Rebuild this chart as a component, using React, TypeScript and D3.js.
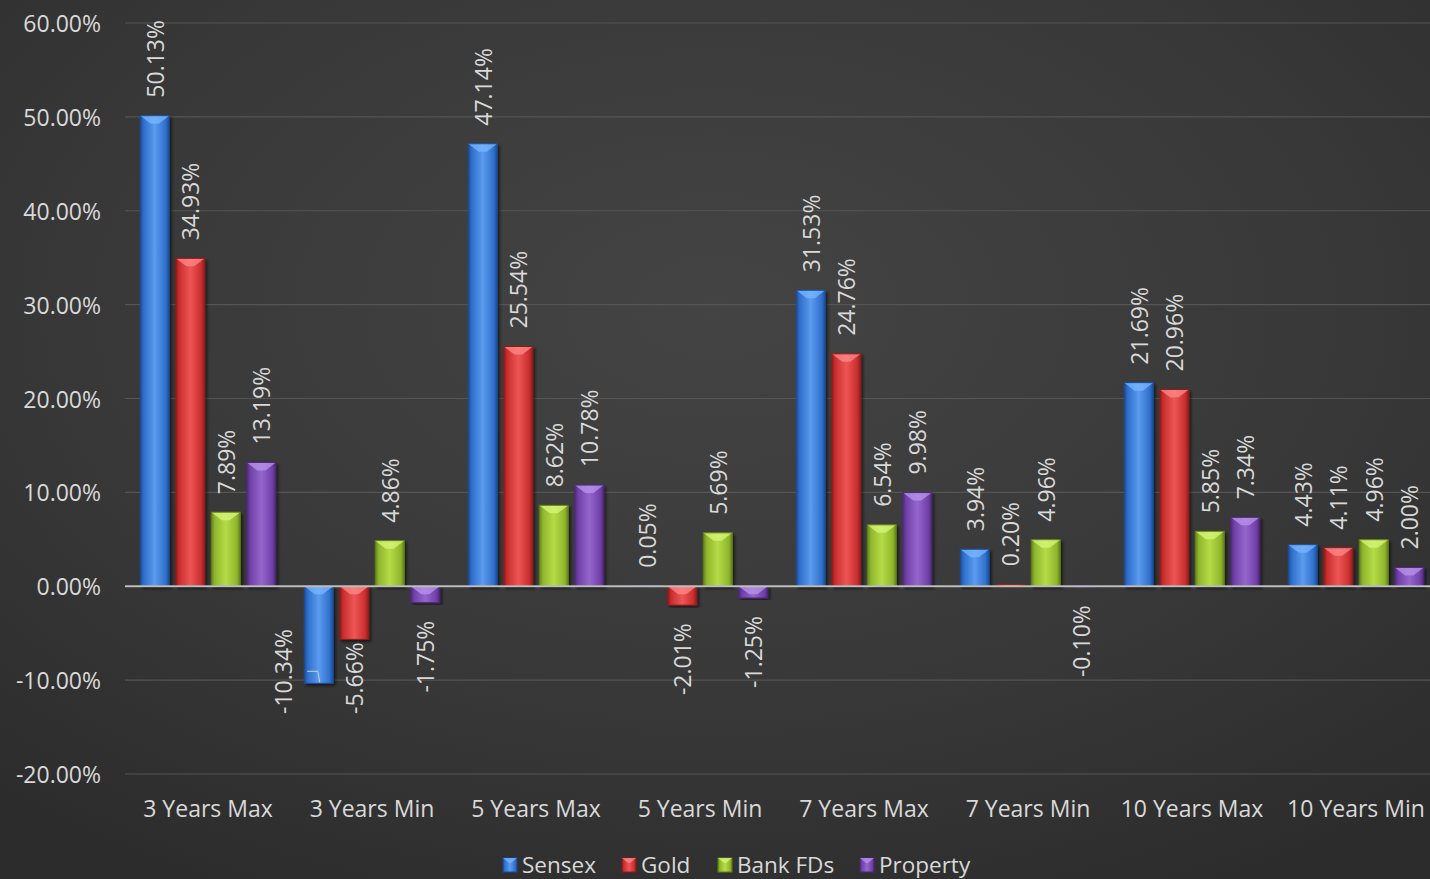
import React from "react";
import * as d3 from "d3";

const categories = ["3 Years Max", "3 Years Min", "5 Years Max", "5 Years Min", "7 Years Max", "7 Years Min", "10 Years Max", "10 Years Min"];
const seriesNames = ["Sensex", "Gold", "Bank FDs", "Property"];
const sensex = [50.13, -10.34, 47.14, 0.05, 31.53, 3.94, 21.69, 4.43];
const gold = [34.93, -5.66, 25.54, -2.01, 24.76, 0.2, 20.96, 4.11];
const bankFDs = [7.89, 4.86, 8.62, 5.69, 6.54, 4.96, 5.85, 4.96];
const property = [13.19, -1.75, 10.78, -1.25, 9.98, -0.1, 7.34, 2.0];
const yTicks = [-20, -10, 0, 10, 20, 30, 40, 50, 60];

const seriesValues = [sensex, gold, bankFDs, property];
const palette = [
  { base: "#2f6fcb", light: "#5b9bef", dark: "#1d4c92", top: "#7ab7ff" },
  { base: "#c92e2e", light: "#ee5656", dark: "#8e1b1b", top: "#ff8a8a" },
  { base: "#8fb62c", light: "#b6dc48", dark: "#62801a", top: "#d8f77a" },
  { base: "#7040a8", light: "#9566cc", dark: "#4c2a76", top: "#bb95ee" },
];

const W = 1430;
const H = 879;
const FONT = "'Open Sans', 'Noto Sans', sans-serif";
const TXT = "#d9d9d9";
const FS = 23;

function textLen(s: string): number {
  // approximate Open Sans advance widths (em)
  let w = 0;
  for (const ch of s) {
    if (ch === ".") w += 0.27;
    else if (ch === "%") w += 0.82;
    else if (ch === "-") w += 0.32;
    else w += 0.572;
  }
  return w * FS;
}

export default function App() {
  const x0 = d3.scaleBand<string>().domain(categories).range([126, 1438]).paddingInner(0).paddingOuter(0);
  const y = d3.scaleLinear().domain([-20, 60]).range([774, 23]);
  const pitch = 35.5;
  const bw = 29;
  const bevel = 8;
  const labelGap = 18;
  const labelBottomLimit = 714;

  const labelOverride: Record<string, { dx: number; leader: boolean }> = {
    "1-0": { dx: -36, leader: true },
  };

  const bars: React.ReactNode[] = [];
  const labels: React.ReactNode[] = [];
  categories.forEach((c, ci) => {
    const cx = (x0(c) as number) + x0.bandwidth() / 2;
    seriesValues.forEach((vals, si) => {
      const v = vals[ci];
      const bcx = cx + (si - 1.5) * pitch;
      const xl = bcx - bw / 2;
      const y0 = y(0);
      const yv = y(v);
      const top = Math.min(y0, yv);
      const h = Math.abs(yv - y0);
      const col = palette[si];
      if (h > 0.3) {
        const bv = Math.min(bevel, h);
        bars.push(
          <g key={`b-${ci}-${si}`} filter="url(#shadow)">
            <rect x={xl} y={top} width={bw} height={h} fill={`url(#grad${si})`} />
            <polygon
              points={`${xl},${top} ${xl + bw},${top} ${bcx + 4},${top + bv} ${bcx - 4},${top + bv}`}
              fill={col.top}
              opacity={0.75}
            />
            <rect x={xl} y={top} width={bw} height={h} fill="none" stroke={col.dark} strokeWidth={1} />
          </g>
        );
      }
      const label = `${v.toFixed(2)}%`;
      const ov = labelOverride[`${ci}-${si}`];
      if (v >= 0) {
        const ly = yv - labelGap;
        labels.push(
          <text key={`l-${ci}-${si}`} transform={`translate(${bcx},${ly}) rotate(-90)`} textAnchor="start" dominantBaseline="central" fill={TXT} fontSize={FS} fontFamily={FONT}>
            {label}
          </text>
        );
      } else {
        const dx = ov ? ov.dx : 0;
        const len = textLen(label);
        let ly = yv + labelGap;
        if (ly + len > labelBottomLimit) ly = labelBottomLimit - len;
        labels.push(
          <text key={`l-${ci}-${si}`} transform={`translate(${bcx + dx},${ly}) rotate(-90)`} textAnchor="end" dominantBaseline="central" fill={TXT} fontSize={FS} fontFamily={FONT}>
            {label}
          </text>
        );
        if (ov && ov.leader) {
          labels.push(
            <polyline key={`ld-${ci}-${si}`} points={`${xl + 3},${yv - 12} ${bcx - 1},${yv - 12} ${bcx + 1},${yv - 1}`} fill="none" stroke="#d0d0d0" strokeWidth={1} />
          );
        }
      }
    });
  });

  const legendItems = [
    { x: 503, tx: 522 },
    { x: 622, tx: 641 },
    { x: 718, tx: 737 },
    { x: 860, tx: 879 },
  ];

  return (
    <svg width={W} height={H} style={{ position: "absolute", left: 0, top: 0, display: "block" }}>
      <defs>
        <radialGradient id="bg" cx="0.5" cy="0.35" r="0.75">
          <stop offset="0" stopColor="#444444" />
          <stop offset="0.6" stopColor="#383838" />
          <stop offset="1" stopColor="#2c2c2c" />
        </radialGradient>
        {palette.map((p, i) => (
          <linearGradient key={i} id={`grad${i}`} x1="0" x2="1" y1="0" y2="0">
            <stop offset="0" stopColor={p.dark} />
            <stop offset="0.12" stopColor={p.base} />
            <stop offset="0.5" stopColor={p.light} />
            <stop offset="0.88" stopColor={p.base} />
            <stop offset="1" stopColor={p.dark} />
          </linearGradient>
        ))}
        <filter id="shadow" x="-20%" y="-5%" width="150%" height="115%">
          <feDropShadow dx="2" dy="2" stdDeviation="1.5" floodColor="#000" floodOpacity="0.55" />
        </filter>
      </defs>
      <rect x={0} y={0} width={W} height={H} fill="url(#bg)" />
      {yTicks.map((t) => (
        <g key={`t-${t}`}>
          {t !== 0 && <line x1={125} x2={W} y1={y(t)} y2={y(t)} stroke="#555555" strokeWidth={1.2} />}
          <text x={101} y={y(t)} textAnchor="end" dominantBaseline="central" fill={TXT} fontSize={FS} fontFamily={FONT}>
            {`${t.toFixed(2)}%`}
          </text>
        </g>
      ))}
      {bars}
      <line x1={125} x2={W} y1={y(0)} y2={y(0)} stroke="#bdbdbd" strokeWidth={2} />
      {labels}
      {categories.map((c) => (
        <text key={`c-${c}`} x={(x0(c) as number) + x0.bandwidth() / 2} y={808} textAnchor="middle" dominantBaseline="central" fill={TXT} fontSize={FS} fontFamily={FONT}>
          {c}
        </text>
      ))}
      {seriesNames.map((s, i) => (
        <g key={`lg-${s}`}>
          <rect x={legendItems[i].x} y={858} width={14} height={14} fill={`url(#grad${i})`} stroke={palette[i].dark} strokeWidth={1} />
          <polygon points={`${legendItems[i].x},858 ${legendItems[i].x + 14},858 ${legendItems[i].x + 8},863 ${legendItems[i].x + 6},863`} fill={palette[i].top} opacity={0.75} />
          <text x={legendItems[i].tx} y={864} dominantBaseline="central" fill={TXT} fontSize={22.5} fontFamily={FONT}>
            {s}
          </text>
        </g>
      ))}
    </svg>
  );
}
